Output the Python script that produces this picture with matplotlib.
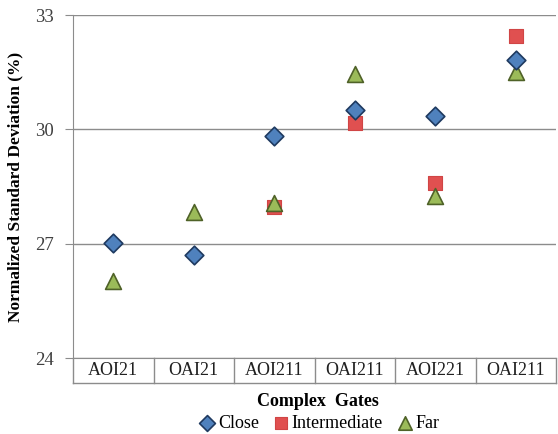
import matplotlib.pyplot as plt
import numpy as np

plt.rcParams['font.family'] = ['Liberation Serif', 'DejaVu Serif']

# Data
gates = ['AOI21', 'OAI21', 'AOI211', 'OAI211', 'AOI221', 'OAI211']
close = [27.03, 26.71, 29.82, 30.50, 30.34, 31.82]
intermediate = [np.nan, np.nan, 27.95, 30.16, 28.60, 32.45]
far = [26.03, 27.82, 28.08, 31.45, 28.24, 31.50]

fig = plt.figure(figsize=(5.58, 4.34), dpi=100)
ax = fig.add_axes([73 / 558, 1 - 358 / 434, 483 / 558, 343 / 434])

x = np.arange(len(gates))
ax.scatter(x, intermediate, marker='s', s=110, color='#E05050', edgecolor='#D04545',
           linewidth=0.8, zorder=3, label='Intermediate')
ax.scatter(x, far, marker='^', s=130, color='#9BBB59', edgecolor='#4F6228',
           linewidth=1.2, zorder=4, label='Far')
ax.scatter(x, close, marker='D', s=90, color='#4F81BD', edgecolor='#1F3A60',
           linewidth=1.2, zorder=5, label='Close')

ax.set_xlim(-0.5, len(gates) - 0.5)
ax.set_ylim(24, 33)
ax.set_yticks([24, 27, 30, 33])
ax.yaxis.grid(True, color='#8C8C8C', linewidth=1)
ax.set_axisbelow(True)
for s in ['top', 'right']:
    ax.spines[s].set_visible(False)
ax.spines['left'].set_color('#8C8C8C')
ax.spines['bottom'].set_color('#8C8C8C')
ax.tick_params(axis='y', colors='#8C8C8C', labelcolor='#404040', labelsize=13.5,
               length=6, direction='out', pad=8)
ax.set_xticks([])

# category table below the axis
box_h = 25 / 343
for i in range(len(gates) + 1):
    ax.plot([i / len(gates)] * 2, [0, -box_h], transform=ax.transAxes,
            color='#8C8C8C', lw=1, clip_on=False)
ax.plot([0, 1], [-box_h, -box_h], transform=ax.transAxes, color='#8C8C8C',
        lw=1, clip_on=False)
for i, g in enumerate(gates):
    ax.text((i + 0.5) / len(gates), -box_h / 2, g, transform=ax.transAxes,
            ha='center', va='center', fontsize=13, color='#202020')

ax.set_ylabel('Normalized Standard Deviation (%)', fontsize=12.5, fontweight='bold',
              labelpad=8)
fig.text(318 / 558, 1 - 402 / 434, 'Complex  Gates', ha='center', va='center',
         fontsize=13, fontweight='bold')

handles, labels = ax.get_legend_handles_labels()
order = [2, 0, 1]
fig.legend([handles[i] for i in order], [labels[i] for i in order],
           loc='center', bbox_to_anchor=(318 / 558, 1 - 423 / 434), ncol=3,
           frameon=False, fontsize=13, handletextpad=0.0, columnspacing=0.6,
           markerscale=0.85, handlelength=1.2)

fig.savefig('out.png', dpi=100)
